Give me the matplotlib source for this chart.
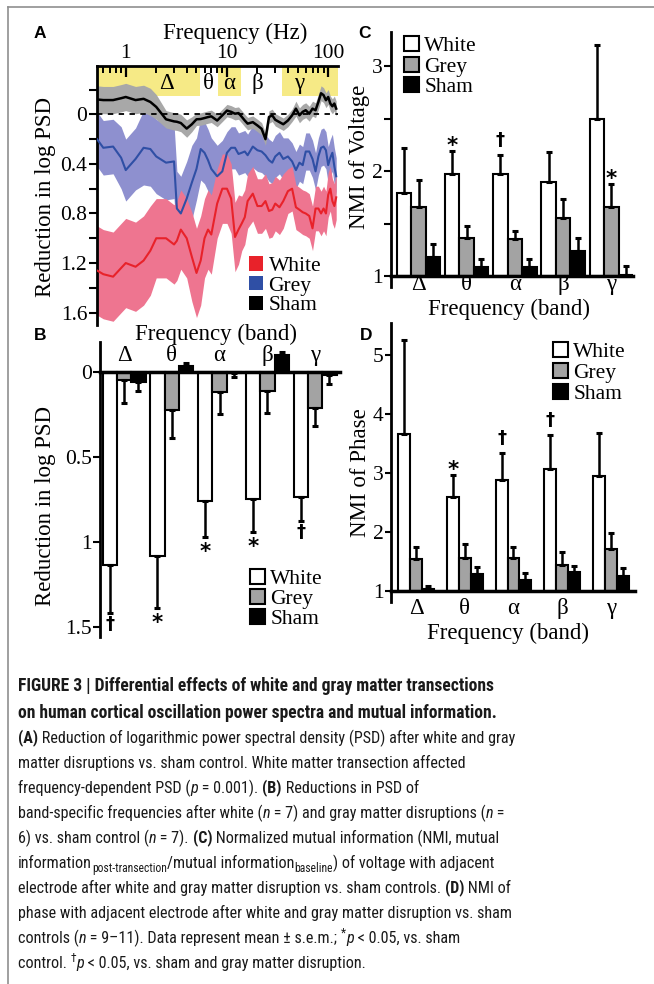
import numpy as np
import matplotlib
matplotlib.use("Agg")
import matplotlib.pyplot as plt
import matplotlib.font_manager as fm
from matplotlib.font_manager import FontProperties
from matplotlib.patches import Patch
from matplotlib.lines import Line2D
from matplotlib.ticker import LogLocator, NullFormatter

# ---------------- data ----------------
# Panel A: reduction in log PSD vs frequency (mean and s.e.m.)
freq_hz = [0.52, 0.6, 0.75, 0.9, 1.0, 1.25, 1.5, 1.75, 2, 2.5,
           3, 3.2, 3.5, 4, 4.5, 5, 5.5, 6, 6.5, 7,
           8, 9, 10, 11, 12, 13, 14, 15, 16, 18,
           20, 22, 24, 26, 28, 30, 33, 36, 40, 44,
           48, 52, 56, 60, 65, 70, 75, 80, 85, 90,
           95, 100, 105, 110, 115, 120]
white_psd = [1.26, 1.29, 1.31, 1.24, 1.20, 1.23, 1.18, 1.10, 1.00, 1.00,
             1.05, 1.02, 0.93, 1.00, 1.15, 1.28, 1.18, 1.00, 0.93, 0.97,
             0.72, 0.60, 0.60, 0.68, 0.99, 0.93, 0.88, 0.83, 0.70, 0.64,
             0.74, 0.74, 0.70, 0.78, 0.77, 0.72, 0.75, 0.70, 0.62, 0.60,
             0.75, 0.77, 0.79, 0.80, 0.82, 0.92, 0.76, 0.76, 0.80, 0.76,
             0.80, 0.65, 0.60, 0.70, 0.74, 0.67]
white_sem = [0.36, 0.36, 0.36, 0.36, 0.36, 0.36, 0.36, 0.36, 0.32, 0.32,
             0.32, 0.32, 0.32, 0.32, 0.36, 0.36, 0.36, 0.32, 0.32, 0.32,
             0.28, 0.28, 0.28, 0.28, 0.28, 0.28, 0.22, 0.22, 0.22, 0.22,
             0.22, 0.22, 0.22, 0.22, 0.22, 0.22, 0.22, 0.22, 0.18, 0.18,
             0.18, 0.18, 0.18, 0.18, 0.18, 0.18, 0.18, 0.18, 0.18, 0.18,
             0.18, 0.18, 0.18, 0.18, 0.18, 0.18]
grey_psd = [0.20, 0.27, 0.26, 0.35, 0.45, 0.36, 0.27, 0.28, 0.34, 0.39,
            0.38, 0.76, 0.80, 0.68, 0.55, 0.44, 0.28, 0.31, 0.37, 0.44,
            0.50, 0.46, 0.31, 0.27, 0.27, 0.32, 0.31, 0.30, 0.33, 0.26,
            0.29, 0.30, 0.33, 0.37, 0.39, 0.34, 0.31, 0.36, 0.34, 0.38,
            0.45, 0.39, 0.41, 0.30, 0.30, 0.36, 0.46, 0.34, 0.27, 0.26,
            0.29, 0.41, 0.35, 0.31, 0.42, 0.50]
grey_sem = [0.22, 0.22, 0.22, 0.25, 0.25, 0.25, 0.30, 0.30, 0.30, 0.30,
            0.30, 0.30, 0.30, 0.30, 0.30, 0.25, 0.25, 0.25, 0.25, 0.25,
            0.25, 0.25, 0.17, 0.17, 0.17, 0.17, 0.17, 0.17, 0.17, 0.17,
            0.17, 0.17, 0.17, 0.17, 0.17, 0.17, 0.17, 0.17, 0.15, 0.15,
            0.15, 0.15, 0.15, 0.15, 0.15, 0.15, 0.15, 0.15, 0.15, 0.15,
            0.15, 0.15, 0.15, 0.15, 0.15, 0.15]
sham_psd = [-0.12, -0.115, -0.115, -0.13, -0.14, -0.115, -0.125, -0.10, -0.06, 0.04,
            0.057, 0.06, 0.07, 0.115, 0.08, 0.04, 0.038, 0.03, 0.022, 0.016,
            0.05, 0.008, -0.03, -0.02, -0.005, -0.01, 0.02, 0.05, 0.075, 0.063,
            0.09, 0.117, 0.20, 0.022, 0.008, 0.044, 0.063, 0.08, 0.05, 0.008,
            -0.046, 0.008, -0.02, -0.033, -0.005, -0.046, -0.033, -0.10, -0.17, -0.155,
            -0.114, -0.14, -0.087, -0.065, -0.087, -0.046]
sham_sem = [0.11, 0.11, 0.11, 0.11, 0.11, 0.11, 0.11, 0.11, 0.10, 0.07,
            0.07, 0.07, 0.07, 0.07, 0.06, 0.05, 0.05, 0.05, 0.05, 0.05,
            0.05, 0.05, 0.05, 0.05, 0.05, 0.05, 0.05, 0.05, 0.05, 0.05,
            0.05, 0.05, 0.05, 0.05, 0.05, 0.05, 0.05, 0.05, 0.05, 0.05,
            0.06, 0.06, 0.06, 0.06, 0.06, 0.06, 0.06, 0.06, 0.06, 0.06,
            0.06, 0.06, 0.06, 0.06, 0.06, 0.06]
band_spans_hz = [(0.52, 5.4), (8.1, 13.8), (35.0, 125.0)]
band_label_hz = [2.55, 6.5, 10.4, 19.8, 51.5]

bands = ["Δ", "θ", "α", "β", "γ"]
groups = ["White", "Grey", "Sham"]

# Panel B: reduction in log PSD per band
b_white = [1.137, 1.084, 0.760, 0.747, 0.735]
b_white_err = [0.285, 0.310, 0.215, 0.195, 0.143]
b_grey = [0.050, 0.225, 0.118, 0.112, 0.216]
b_grey_err = [0.136, 0.165, 0.133, 0.133, 0.104]
b_sham = [0.060, -0.033, 0.010, -0.098, 0.020]
b_sham_err = [0.054, 0.020, 0.023, 0.020, 0.055]
b_white_marks = ["†", "*", "*", "*", "†"]

# Panel C: NMI of voltage
c_white = [1.790, 1.975, 1.975, 1.895, 2.500]
c_white_err = [0.436, 0.220, 0.180, 0.290, 0.700]
c_grey = [1.662, 1.360, 1.354, 1.557, 1.662]
c_grey_err = [0.255, 0.120, 0.080, 0.180, 0.220]
c_sham = [1.185, 1.090, 1.083, 1.242, 1.010]
c_sham_err = [0.125, 0.070, 0.085, 0.120, 0.086]
c_white_marks = ["", "*", "†", "", ""]
c_grey_marks = ["", "", "", "", "*"]

# Panel D: NMI of phase
d_white = [3.667, 2.593, 2.876, 3.073, 2.949]
d_white_err = [1.590, 0.367, 0.452, 0.565, 0.729]
d_grey = [1.531, 1.548, 1.559, 1.435, 1.700]
d_grey_err = [0.215, 0.237, 0.187, 0.226, 0.272]
d_sham = [1.020, 1.277, 1.180, 1.310, 1.250]
d_sham_err = [0.050, 0.130, 0.110, 0.110, 0.130]
d_white_marks = ["", "*", "†", "†", ""]

# Caption (segments: text, style)  r=regular b=bold i=italic sub/sup
caption = [
    [("FIGURE 3 | Differential effects of white and gray matter transections", "b")],
    [("on human cortical oscillation power spectra and mutual information.", "b")],
    [("(A)", "b"), (" Reduction of logarithmic power spectral density (PSD) after white and gray", "r")],
    [("matter disruptions vs. sham control. White matter transection affected", "r")],
    [("frequency-dependent PSD (", "r"), ("p", "i"), (" = 0.001). ", "r"), ("(B)", "b"),
     (" Reductions in PSD of", "r")],
    [("band-specific frequencies after white (", "r"), ("n", "i"),
     (" = 7) and gray matter disruptions (", "r"), ("n", "i"), (" =", "r")],
    [("6) vs. sham control (", "r"), ("n", "i"), (" = 7). ", "r"), ("(C)", "b"),
     (" Normalized mutual information (NMI, mutual", "r")],
    [("information", "r"), ("post-transection", "sub"), ("/mutual information", "r"),
     ("baseline", "sub"), (") of voltage with adjacent", "r")],
    [("electrode after white and gray matter disruption vs. sham controls. ", "r"), ("(D)", "b"),
     (" NMI of", "r")],
    [("phase with adjacent electrode after white and gray matter disruption vs. sham", "r")],
    [("controls (", "r"), ("n", "i"), (" = 9–11). Data represent mean ± s.e.m.; ", "r"),
     ("*", "sup"), ("p", "i"), (" < 0.05, vs. sham", "r")],
    [("control. ", "r"), ("†", "sup"), ("p", "i"), (" < 0.05, vs. sham and gray matter disruption.", "r")],
]

# ---------------- style ----------------
W, H, DPI = 654, 984, 100
SERIF = ["Liberation Serif", "DejaVu Serif"]
SANS = ["Liberation Sans", "DejaVu Sans"]
plt.rcParams["font.family"] = SERIF

YEL = "#f6ea86"
GREYBAND = "#a8a8a8"
LAV = "#8e90cf"
PINK = "#ee7590"
RED = "#e8222a"
BLUE = "#2f4fa5"
BARGREY = "#a3a3a3"
FS = 16.5
LEGFS = 15.5
TICKFS = 15.5


def pick_caption_font():
    entries = fm.fontManager.ttflist
    names = {e.name for e in entries}
    for n in ["Liberation Sans Narrow", "Roboto Condensed", "Open Sans Condensed",
              "Arial Narrow", "Nimbus Sans Narrow", "DejaVu Sans Condensed",
              "Noto Sans Condensed", "Noto Sans SemiCondensed"]:
        if n in names:
            return n, "normal"
    good = []
    for e in entries:
        if e.stretch in ("condensed", "semi-condensed") and e.style == "normal" \
                and not any(k in e.name for k in ("Mono", "Serif", "CJK", "Math")):
            good.append(e)
    good.sort(key=lambda e: (0 if "Sans" in e.name or "Roboto" in e.name else 1, e.name))
    if good:
        return good[0].name, good[0].stretch
    return "Liberation Sans", "normal"


CAP_FAMILY, CAP_STRETCH = pick_caption_font()

fig = plt.figure(figsize=(W / DPI, H / DPI), dpi=DPI)


def add_ax(l, t, r, b):
    ax = fig.add_axes([l / W, 1 - b / H, (r - l) / W, (b - t) / H])
    ax.patch.set_alpha(0)
    ax._pxbox = (l, t, r, b)
    return ax


def ax_frac(ax, x, y):
    l, t, r, b = ax._pxbox
    return (x - l) / (r - l), (b - y) / (b - t)


def fig_xy(x, y):
    return x / W, 1 - y / H


# page frame
fig.add_artist(Line2D([8 / W, 1], [1 - 7 / H, 1 - 7 / H], color="#8f8f8f", lw=1.2))
fig.add_artist(Line2D([8 / W, 8 / W], [0, 1 - 7 / H], color="#8f8f8f", lw=1.2))

# ---------------- Panel A ----------------
axA = add_ax(97, 66, 338, 325)
axA.set_xscale("log")
axA.set_xlim(0.52, 125)
axA.set_ylim(1.70, -0.39)
for lo, hi in band_spans_hz:
    axA.fill_between([lo, hi], -0.39, -0.147, color=YEL, lw=0, zorder=1)
for lab, f in zip(bands, band_label_hz):
    axA.text(f, -0.25, lab, ha="center", va="center", fontsize=FS, zorder=6)

fA = np.array(freq_hz)
for m, s, c in [(grey_psd, grey_sem, LAV), (white_psd, white_sem, PINK), (sham_psd, sham_sem, GREYBAND)]:
    m = np.array(m); s = np.array(s)
    axA.fill_between(fA, m - s, m + s, color=c, lw=0, zorder=2)
axA.axhline(0, color="black", lw=1.3, ls=(0, (3, 3)), zorder=3)
axA.plot(fA, white_psd, color=RED, lw=1.5, zorder=4)
axA.plot(fA, grey_psd, color=BLUE, lw=1.5, zorder=4)
axA.plot(fA, sham_psd, color="black", lw=1.8, zorder=5)

axA.xaxis.set_ticks_position("top")
axA.xaxis.set_label_position("top")
axA.set_xticks([1, 10, 100])
axA.set_xticklabels(["1", "10", "100"])
axA.xaxis.set_minor_locator(LogLocator(base=10, subs=np.arange(2, 10)))
axA.xaxis.set_minor_formatter(NullFormatter())
axA.tick_params(axis="x", which="major", direction="in", length=8, width=1.6, pad=2, labelsize=TICKFS)
axA.tick_params(axis="x", which="minor", direction="in", length=5, width=1.4)
axA.set_yticks([0, 0.4, 0.8, 1.2, 1.6])
axA.set_yticklabels(["0", "0.4", "0.8", "1.2", "1.6"])
axA.set_yticks([-0.2, 0.2, 0.6, 1.0, 1.4], minor=True)
axA.tick_params(axis="y", which="both", direction="out", length=6, width=1.5, pad=1, labelsize=TICKFS)
for sp in ["bottom", "right"]:
    axA.spines[sp].set_visible(False)
for sp in ["top", "left"]:
    axA.spines[sp].set_linewidth(2)
axA.set_xlabel("Frequency (Hz)", fontsize=FS)
axA.xaxis.set_label_coords(*ax_frac(axA, 235, 33))
axA.xaxis.label.set_verticalalignment("center")
axA.set_ylabel("Reduction in log PSD", fontsize=FS)
axA.yaxis.set_label_coords(*ax_frac(axA, 45, 197))
axA.yaxis.label.set_verticalalignment("center")
legA = axA.legend([Patch(facecolor=c, edgecolor="none") for c in (RED, BLUE, "black")], groups,
                  loc="upper left", bbox_to_anchor=ax_frac(axA, 249, 256), frameon=False,
                  borderpad=0, borderaxespad=0, handlelength=0.66, handleheight=0.66,
                  handletextpad=0.25, labelspacing=0.0, prop=dict(family=SERIF, size=LEGFS))
legA.set_zorder(10)


# ---------------- bar panels ----------------
def bar_panel(ax, white, werr, grey, gerr, sham, serr, base, width):
    x = np.arange(len(bands))
    caps = []
    for vals, errs, col, off in [(white, werr, "white", -width), (grey, gerr, BARGREY, 0.0),
                                 (sham, serr, "black", width)]:
        vals = np.asarray(vals, float); errs = np.asarray(errs, float)
        ax.bar(x + off, vals - base, width, bottom=base, color=col, edgecolor="black",
               linewidth=1.5, zorder=2)
        pos = vals >= base
        lower = np.where(pos, 0, errs); upper = np.where(pos, errs, 0)
        ax.errorbar(x + off, vals, yerr=[lower, upper], fmt="none", ecolor="black",
                    elinewidth=1.8, capsize=2.5, capthick=2.2, zorder=3)
        caps.append((x + off, np.where(pos, vals + errs, vals - errs)))
    return caps


def add_marks(ax, xs, caps, marks, direction):
    for xv, cv, m in zip(xs, caps, marks):
        if not m:
            continue
        if m == "*":
            dy = (11 if direction > 0 else -9) - 6
            ax.annotate(m, (xv, cv), xytext=(0, dy * 0.72), textcoords="offset points",
                        ha="center", va="center", fontsize=15.5, family=["DejaVu Sans"],
                        weight="bold", zorder=6)
        else:
            dy = 15 if direction > 0 else -11
            ax.annotate(m, (xv, cv), xytext=(0, dy * 0.72), textcoords="offset points",
                        ha="center", va="center", fontsize=13, family=["DejaVu Sans"],
                        weight="bold", zorder=6)


def bar_legend(ax, x, y, spacing):
    handles = [Patch(facecolor=c, edgecolor="black", linewidth=1.5) for c in ("white", BARGREY, "black")]
    return ax.legend(handles, groups, loc="upper left", bbox_to_anchor=ax_frac(ax, x, y),
                     frameon=False, borderpad=0, borderaxespad=0, handlelength=0.7,
                     handleheight=0.7, handletextpad=0.25, labelspacing=spacing,
                     prop=dict(family=SERIF, size=LEGFS))


# ---------------- Panel B ----------------
axB = add_ax(100, 341.7, 340, 636.7)
capsB = bar_panel(axB, b_white, b_white_err, b_grey, b_grey_err, b_sham, b_sham_err, 0.0, 0.30)
axB.set_xlim(-0.503, 4.52)
axB.set_ylim(1.56, -0.176)
for sp in ["bottom", "right"]:
    axB.spines[sp].set_visible(False)
axB.spines["top"].set_position(("data", 0))
axB.spines["top"].set_linewidth(2.5)
axB.spines["left"].set_linewidth(2)
axB.set_xticks(np.arange(len(bands)))
axB.set_xticklabels(bands)
axB.tick_params(axis="x", which="both", bottom=False, top=False, labelbottom=False,
                labeltop=True, length=0, pad=4, labelsize=FS)
axB.set_yticks([0, 0.5, 1, 1.5])
axB.set_yticklabels(["0", "0.5", "1", "1.5"])
axB.tick_params(axis="y", direction="out", length=5, width=1.5, pad=1, labelsize=TICKFS)
axB.set_xlabel("Frequency (band)", fontsize=FS)
axB.xaxis.set_label_position("top")
axB.xaxis.set_label_coords(*ax_frac(axB, 216, 334))
axB.xaxis.label.set_verticalalignment("center")
axB.set_ylabel("Reduction in log PSD", fontsize=FS)
axB.yaxis.set_label_coords(*ax_frac(axB, 46, 506))
axB.yaxis.label.set_verticalalignment("center")
add_marks(axB, capsB[0][0], capsB[0][1], b_white_marks, -1)
bar_legend(axB, 250, 569, 0.0)

# ---------------- Panel C ----------------
axC = add_ax(390.7, 31.7, 633, 286.7)
capsC = bar_panel(axC, c_white, c_white_err, c_grey, c_grey_err, c_sham, c_sham_err, 1.0, 0.30)
axC.set_xlim(-0.577, 4.45)
axC.set_ylim(0.9, 3.33)
for sp in ["top", "right"]:
    axC.spines[sp].set_visible(False)
axC.spines["bottom"].set_position(("data", 1))
axC.spines["bottom"].set_linewidth(2.5)
axC.spines["left"].set_linewidth(2)
axC.set_xticks(np.arange(len(bands)))
axC.set_xticklabels(bands)
axC.tick_params(axis="x", length=0, pad=-1.5, labelsize=FS)
axC.set_yticks([1, 2, 3])
axC.set_yticklabels(["1", "2", "3"])
axC.set_yticks([1.5, 2.5], minor=True)
axC.tick_params(axis="y", which="both", direction="out", length=5, width=1.5, pad=1, labelsize=TICKFS)
axC.set_xlabel("Frequency (band)", fontsize=FS)
axC.xaxis.set_label_coords(*ax_frac(axC, 509, 309))
axC.xaxis.label.set_verticalalignment("center")
axC.set_ylabel("NMI of Voltage", fontsize=FS)
axC.yaxis.set_label_coords(*ax_frac(axC, 360, 157))
axC.yaxis.label.set_verticalalignment("center")
add_marks(axC, capsC[0][0], capsC[0][1], c_white_marks, 1)
add_marks(axC, capsC[1][0], capsC[1][1], c_grey_marks, 1)
bar_legend(axC, 404, 36, 0.02)

# ---------------- Panel D ----------------
axD = add_ax(390.7, 323.3, 635, 601.7)
capsD = bar_panel(axD, d_white, d_white_err, d_grey, d_grey_err, d_sham, d_sham_err, 1.0, 0.245)
axD.set_xlim(-0.525, 4.50)
axD.set_ylim(0.81, 5.54)
for sp in ["top", "right"]:
    axD.spines[sp].set_visible(False)
axD.spines["bottom"].set_position(("data", 1))
axD.spines["bottom"].set_linewidth(2.5)
axD.spines["left"].set_linewidth(2)
axD.set_xticks(np.arange(len(bands)))
axD.set_xticklabels(bands)
axD.tick_params(axis="x", length=0, pad=5.5, labelsize=FS)
axD.set_yticks([1, 2, 3, 4, 5])
axD.set_yticklabels(["1", "2", "3", "4", "5"])
axD.tick_params(axis="y", direction="out", length=4, width=1.5, pad=1, labelsize=TICKFS)
axD.set_xlabel("Frequency (band)", fontsize=FS)
axD.xaxis.set_label_coords(*ax_frac(axD, 508, 633))
axD.xaxis.label.set_verticalalignment("center")
axD.set_ylabel("NMI of Phase", fontsize=FS)
axD.yaxis.set_label_coords(*ax_frac(axD, 360, 473))
axD.yaxis.label.set_verticalalignment("center")
add_marks(axD, capsD[0][0], capsD[0][1], d_white_marks, 1)
bar_legend(axD, 553, 342, 0.05)

# panel letters
for lab, (x, y) in zip("ABCD", [(34, 34), (34, 335), (358, 34), (360, 335)]):
    fig.text(*fig_xy(x, y), lab, ha="left", va="center", fontsize=12.5, weight="bold", family=SANS)

# ---------------- caption ----------------
renderer = fig.canvas.get_renderer()


def cap_prop(style, size):
    kw = dict(family=CAP_FAMILY, stretch=CAP_STRETCH, size=size)
    if style == "b":
        kw["weight"] = "bold"
    if style == "i":
        kw["style"] = "italic"
    if style in ("sub", "sup"):
        kw["size"] = size * 0.72
    return FontProperties(**kw)


def advance(text, prop):
    # advance width in px, including leading / trailing spaces
    w1, _, _ = renderer.get_text_width_height_descent("x" + text + "x", prop, ismath=False)
    w0, _, _ = renderer.get_text_width_height_descent("xx", prop, ismath=False)
    return w1 - w0


def line_width(segs, size):
    return sum(advance(t, cap_prop(s, size)) for t, s in segs)


# fit font sizes to the reference line widths
base_size = 12.0
cap_size = min(13.5, base_size * 497.0 / line_width(caption[2], base_size))
title_size = min(14.0, base_size * 479.0 / line_width(caption[0], base_size))

cap_centers = [685, 711.7, 736.7, 761.7, 786.7, 811.7, 836.7, 861.7, 886.7, 911.7, 936.7, 961.7]
for k, (segs, yc) in enumerate(zip(caption, cap_centers)):
    x = 18.0
    ybase = yc + 6
    size = title_size if k < 2 else cap_size
    for t, s in segs:
        prop = cap_prop(s, size)
        dy = {"sub": 4.0, "sup": -6.0}.get(s, 0.0)
        fig.text(*fig_xy(x, ybase + dy), t, ha="left", va="baseline",
                 fontproperties=prop, color="#1a1a1a")
        x += advance(t, prop)

fig.savefig("out.png", dpi=DPI)
